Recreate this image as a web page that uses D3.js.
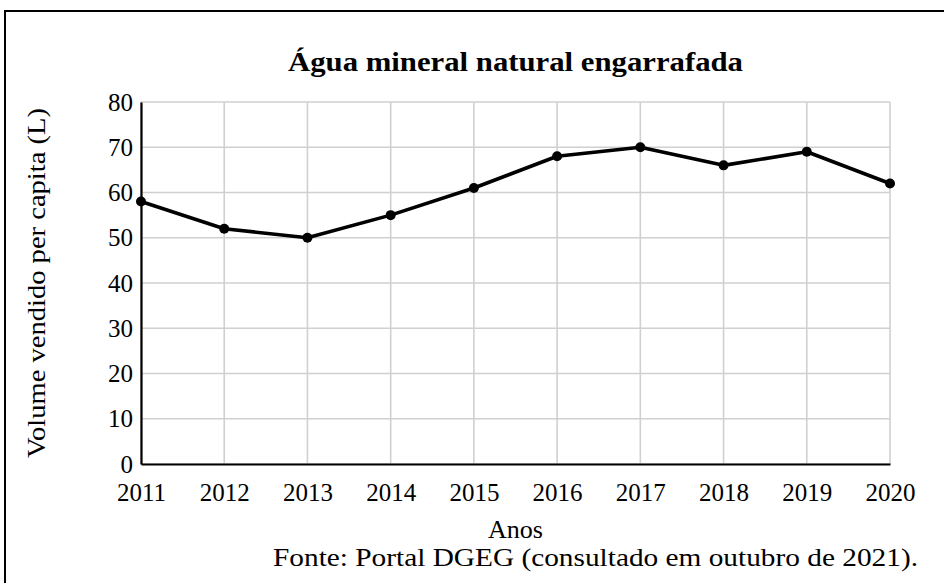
<!DOCTYPE html>
<html>
<head>
<meta charset="utf-8">
<script src="https://cdn.jsdelivr.net/npm/d3@7"></script>
<style>
  html, body { margin: 0; padding: 0; background: #fff; }
  svg text { font-family: "Liberation Serif", "DejaVu Serif", serif; fill: #000; }
</style>
</head>
<body>
<div id="chart"></div>
<script>
const years = [2011, 2012, 2013, 2014, 2015, 2016, 2017, 2018, 2019, 2020];
const volume = [58, 52, 50, 55, 61, 68, 70, 66, 69, 62];
const yTicks = [0, 10, 20, 30, 40, 50, 60, 70, 80];

const title = 'Água mineral natural engarrafada';
const xLabel = 'Anos';
const yLabel = 'Volume vendido per capita (L)';
const source = 'Fonte: Portal DGEG (consultado em outubro de 2021).';

const width = 944;
const height = 583;
const margin = { top: 102, right: 54, bottom: 119, left: 141 };

const svg = d3.select('#chart')
  .append('svg')
  .attr('width', width)
  .attr('height', height);

// outer frame (right and bottom edges fall outside the picture)
svg.append('rect')
  .attr('x', 5)
  .attr('y', 11)
  .attr('width', width + 10)
  .attr('height', height + 10)
  .attr('fill', 'none')
  .attr('stroke', '#000')
  .attr('stroke-width', 2);

const x = d3.scaleLinear()
  .domain([years[0], years[years.length - 1]])
  .range([margin.left, width - margin.right]);

const y = d3.scaleLinear()
  .domain([0, 80])
  .range([height - margin.bottom, margin.top]);

// grid
svg.append('g')
  .selectAll('line')
  .data(years)
  .join('line')
  .attr('x1', d => x(d))
  .attr('x2', d => x(d))
  .attr('y1', y(0))
  .attr('y2', y(80))
  .attr('stroke', '#d0d0d0')
  .attr('stroke-width', 1.6);

svg.append('g')
  .selectAll('line')
  .data(yTicks)
  .join('line')
  .attr('x1', x(years[0]))
  .attr('x2', x(years[years.length - 1]))
  .attr('y1', d => y(d))
  .attr('y2', d => y(d))
  .attr('stroke', '#d0d0d0')
  .attr('stroke-width', 1.6);

// axes
const xAxis = svg.append('g')
  .attr('transform', `translate(0,${y(0)})`)
  .call(d3.axisBottom(x).tickValues(years).tickFormat(d3.format('d')).tickSize(0).tickPadding(19));

const yAxis = svg.append('g')
  .attr('transform', `translate(${x(years[0])},0)`)
  .call(d3.axisLeft(y).tickValues(yTicks).tickSize(0).tickPadding(8));

[xAxis, yAxis].forEach(g => {
  g.select('.domain').attr('stroke', '#000').attr('stroke-width', 2.2);
  g.selectAll('text')
    .attr('font-family', '"Liberation Serif", serif')
    .attr('font-size', 25)
    .attr('fill', '#000');
});

// line + markers
const line = d3.line()
  .x((d, i) => x(years[i]))
  .y(d => y(d));

svg.append('path')
  .datum(volume)
  .attr('d', line)
  .attr('fill', 'none')
  .attr('stroke', '#000')
  .attr('stroke-width', 3.6)
  .attr('stroke-linejoin', 'round');

svg.append('g')
  .selectAll('circle')
  .data(volume)
  .join('circle')
  .attr('cx', (d, i) => x(years[i]))
  .attr('cy', d => y(d))
  .attr('r', 5)
  .attr('fill', '#000');

// texts - Times is narrower than the original Computer Modern, so stretch a bit
const plotMid = (x(years[0]) + x(years[years.length - 1])) / 2;

svg.append('text')
  .attr('x', plotMid)
  .attr('y', 71)
  .attr('text-anchor', 'middle')
  .attr('font-weight', 'bold')
  .attr('font-size', 27)
  .attr('textLength', 455)
  .attr('lengthAdjust', 'spacingAndGlyphs')
  .text(title);

svg.append('text')
  .attr('x', plotMid)
  .attr('y', 538)
  .attr('text-anchor', 'middle')
  .attr('font-size', 25)
  .attr('textLength', 55)
  .attr('lengthAdjust', 'spacingAndGlyphs')
  .text(xLabel);

svg.append('text')
  .attr('transform', `translate(45,${(y(0) + y(80)) / 2}) rotate(-90)`)
  .attr('text-anchor', 'middle')
  .attr('font-size', 25)
  .attr('textLength', 350)
  .attr('lengthAdjust', 'spacingAndGlyphs')
  .text(yLabel);

svg.append('text')
  .attr('x', 918)
  .attr('y', 566)
  .attr('text-anchor', 'end')
  .attr('font-size', 25)
  .attr('textLength', 645)
  .attr('lengthAdjust', 'spacingAndGlyphs')
  .text(source);
</script>
</body>
</html>
